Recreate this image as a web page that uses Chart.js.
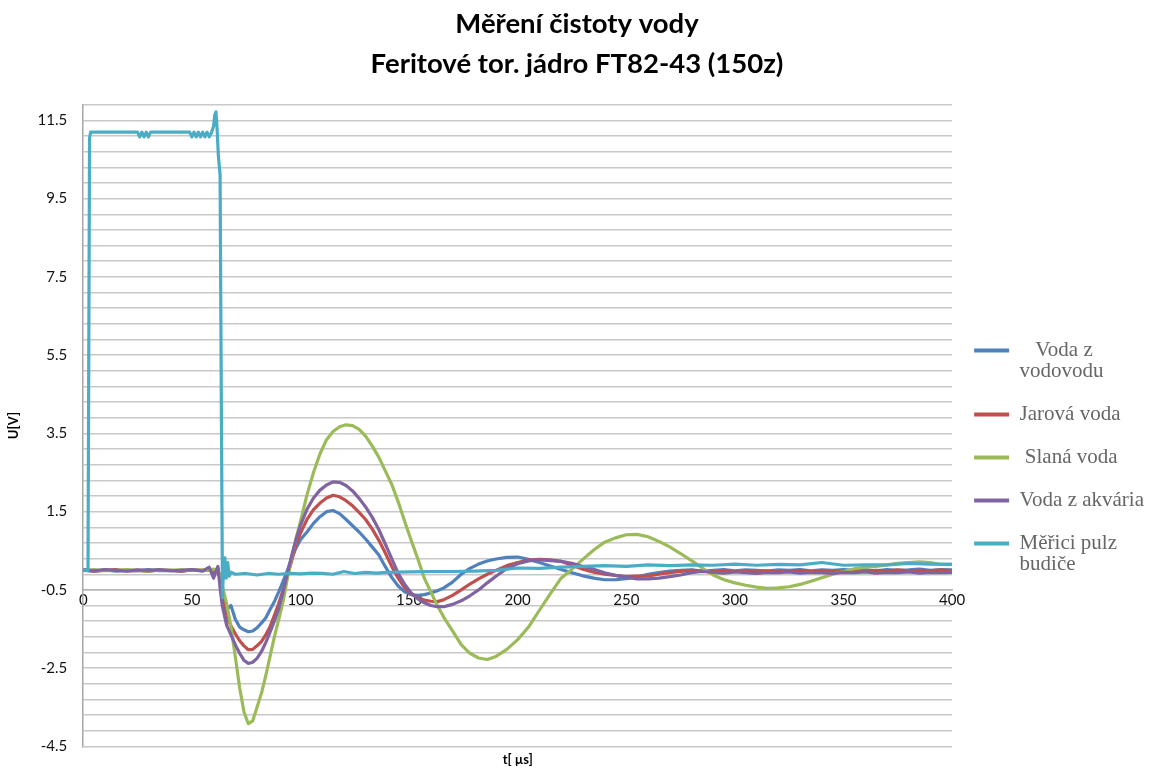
<!DOCTYPE html>
<html lang="cs">
<head>
<meta charset="utf-8">
<title>Měření čistoty vody</title>
<script src="https://cdn.jsdelivr.net/npm/chart.js@4.4.1/dist/chart.umd.min.js"></script>
<style>
  html, body { margin: 0; padding: 0; background: #fff; }
  #wrap { width: 1154px; height: 769px; position: relative; }
</style>
</head>
<body>
<div id="wrap"><canvas id="chart"></canvas></div>
<script>
// texts
const titleLines = ['Měření čistoty vody', 'Feritové tor. jádro FT82-43 (150z)'];
const xAxisTitle = 't[ µs]';
const yAxisTitle = 'U[V]';
const seriesNames = [['   Voda z', 'vodovodu'], 'Jarová voda', ' Slaná voda', 'Voda z akvária', ['Měřici pulz', 'budiče']];

// axes
const xMin = 0, xMax = 400, xTickStep = 50;
const yMin = -4.5, yMax = 11.9, yGridStep = 0.4;
const yTickLabels = [-4.5, -2.5, -0.5, 1.5, 3.5, 5.5, 7.5, 9.5, 11.5];

// sample times (µs) for the four measured responses
const timeUs = [0, 5, 10, 15, 20, 25, 30, 35, 40, 45, 50, 55, 58, 60, 62, 63, 64,
  66, 68, 70, 72, 74, 76, 78, 80, 82, 84, 86, 88, 90, 92, 94, 96, 98, 100,
  103, 106, 109, 112, 115, 118, 121, 124, 127, 130, 133, 136, 139, 142, 145, 148, 151, 154, 157, 160, 163, 166,
  170, 174, 178, 182, 186, 190,
  195, 200, 205, 210, 215, 220, 225, 230, 235, 240, 245, 250, 255, 260, 265, 270, 275, 280, 285, 290, 295,
  300, 305, 310, 315, 320, 325, 330, 335, 340, 345, 350, 355, 360, 365, 370, 375, 380, 385, 390, 395, 400];

const vodaVodovod = [0.0, -0.02, 0.01, -0.02, 0.0, -0.01, 0.02, -0.01, 0.0, -0.02, 0.01, -0.01, 0.03, -0.1, 0.05, -0.25, -0.6,
  -1.0, -0.9, -1.25, -1.45, -1.52, -1.57, -1.55, -1.47, -1.35, -1.22, -1.0, -0.8, -0.55, -0.28, 0.0, 0.32, 0.58, 0.78,
  0.98, 1.2, 1.37, 1.5, 1.53, 1.45, 1.3, 1.14, 0.98, 0.8, 0.6, 0.4, 0.1, -0.18, -0.4, -0.55, -0.62, -0.64, -0.62, -0.58, -0.52, -0.45,
  -0.3, -0.1, 0.05, 0.16, 0.24, 0.29,
  0.33, 0.34, 0.28, 0.2, 0.11, 0.02, -0.06, -0.14, -0.2, -0.24, -0.24, -0.21, -0.17, -0.1, -0.06, -0.02, 0.0, 0.01, -0.02, 0.0, 0.02,
  -0.01, 0.01, 0.0, -0.02, 0.01, 0.0, 0.02, -0.01, 0.01, 0.0, 0.02, 0.0, 0.01, -0.01, 0.02, 0.0, 0.01, 0.03, 0.0, 0.02, 0.01];

const jarovaVoda = [0.01, -0.02, 0.0, 0.02, -0.01, 0.0, -0.03, 0.01, 0.0, -0.02, 0.01, 0.0, 0.02, -0.05, 0.03, -0.25, -0.7,
  -1.2, -1.42, -1.62, -1.8, -1.93, -2.03, -2.02, -1.93, -1.82, -1.65, -1.44, -1.15, -0.85, -0.5, -0.14, 0.25, 0.66, 0.95,
  1.3, 1.55, 1.72, 1.85, 1.92, 1.88, 1.78, 1.65, 1.48, 1.3, 1.06, 0.78, 0.45, 0.1, -0.2, -0.45, -0.6, -0.7, -0.76, -0.79, -0.8, -0.75,
  -0.64, -0.5, -0.35, -0.22, -0.1, 0.0,
  0.12, 0.2, 0.26, 0.28, 0.27, 0.23, 0.13, 0.03, -0.05, -0.1, -0.13, -0.16, -0.15, -0.14, -0.1, -0.06, -0.03, 0.0, -0.02, -0.04, -0.01,
  -0.03, -0.02, -0.04, -0.01, -0.03, -0.02, 0.0, -0.03, -0.02, -0.04, -0.01, -0.02, -0.03, 0.0, -0.02, 0.01, -0.02, 0.0, -0.01, 0.01, -0.01];

const slanaVoda = [0.0, 0.02, -0.01, 0.0, 0.02, 0.0, -0.02, 0.01, 0.0, 0.02, 0.0, 0.01, 0.0, 0.03, 0.0, -0.15, -0.4,
  -0.85, -1.45, -2.2, -3.0, -3.62, -3.92, -3.85, -3.5, -3.15, -2.7, -2.2, -1.7, -1.25, -0.8, -0.2, 0.35, 0.82, 1.25,
  1.93, 2.5, 2.98, 3.34, 3.55, 3.67, 3.72, 3.7, 3.6, 3.43, 3.18, 2.9, 2.55, 2.2, 1.75, 1.25, 0.76, 0.3, -0.2, -0.55, -0.9, -1.2,
  -1.55, -1.9, -2.12, -2.24, -2.28, -2.2,
  -2.02, -1.77, -1.45, -1.02, -0.6, -0.2, 0.03, 0.28, 0.52, 0.72, 0.83, 0.91, 0.92, 0.86, 0.74, 0.6, 0.43, 0.25, 0.06, -0.12, -0.24,
  -0.32, -0.38, -0.43, -0.46, -0.45, -0.42, -0.36, -0.28, -0.19, -0.1, -0.03, 0.04, 0.08, 0.1, 0.14, 0.18, 0.2, 0.22, 0.2, 0.15, 0.15];

const vodaAkvarium = [0.01, -0.01, 0.02, 0.0, -0.02, 0.01, 0.0, 0.02, -0.01, 0.0, 0.02, -0.02, 0.08, -0.2, 0.1, -0.45, -0.9,
  -1.4, -1.65, -1.9, -2.12, -2.3, -2.38, -2.35, -2.25, -2.08, -1.85, -1.58, -1.3, -0.98, -0.55, -0.08, 0.38, 0.8, 1.15,
  1.56, 1.85, 2.05, 2.18, 2.26, 2.25, 2.17, 2.03, 1.84, 1.62, 1.36, 1.05, 0.68, 0.3, -0.08, -0.36, -0.58, -0.73, -0.83, -0.9, -0.93, -0.93,
  -0.87, -0.78, -0.65, -0.5, -0.32, -0.15,
  0.05, 0.17, 0.24, 0.27, 0.25, 0.23, 0.18, 0.1, 0.03, -0.06, -0.13, -0.18, -0.22, -0.22, -0.2, -0.16, -0.12, -0.06, -0.03, -0.05, -0.07,
  -0.04, -0.06, -0.08, -0.05, -0.06, -0.04, -0.07, -0.05, -0.06, -0.08, -0.05, -0.06, -0.04, -0.07, -0.05, -0.06, -0.04, -0.07, -0.05, -0.06, -0.05];

// excitation pulse has its own sample times
const pulseTimeUs = [0, 2.2, 2.9, 3.4, 5, 10, 15, 20, 25, 26, 27, 28, 29, 30, 31, 35, 40, 45, 49,
  50, 51, 52, 53, 54, 55, 56, 57, 58, 59, 60,
  60.6, 61.1, 61.6, 62.2, 63.0, 63.6, 64.1, 64.6, 65.2, 65.8, 66.5, 67.2, 68,
  70, 75, 80, 85, 90, 95, 100, 105, 110, 115, 120, 125, 130, 135,
  140, 150, 160, 170, 180, 190, 200, 210, 220, 230, 240, 250, 260, 270, 280, 290, 300, 310, 320, 330, 340, 350, 360, 370, 380, 390, 400];
const pulzBudice = [0, 0, 11.05, 11.2, 11.2, 11.2, 11.2, 11.2, 11.2, 11.08, 11.2, 11.08, 11.2, 11.08, 11.2, 11.2, 11.2, 11.2, 11.2,
  11.08, 11.2, 11.08, 11.2, 11.08, 11.2, 11.08, 11.2, 11.08, 11.18, 11.35,
  11.65, 11.72, 11.3, 10.6, 10.1, 4.0, -0.7, 0.1, 0.32, -0.2, 0.2, -0.15, -0.05,
  -0.1, -0.08, -0.12, -0.08, -0.1, -0.08, -0.09, -0.07, -0.08, -0.1, -0.03, -0.08, -0.05, -0.07,
  -0.05, -0.04, -0.03, -0.03, -0.02, 0.0, 0.06, 0.05, 0.08, 0.1, 0.12, 0.1, 0.14, 0.12, 0.14, 0.13, 0.16, 0.13, 0.15, 0.14, 0.2, 0.13, 0.14, 0.14, 0.18, 0.16, 0.15];

const seriesColors = ['#4F81BD', '#C0504D', '#9BBB59', '#8064A2', '#4BACC6'];

const toPoints = (xs, ys) => xs.map((x, i) => ({ x: x, y: ys[i] }));

const seriesData = [
  toPoints(timeUs, vodaVodovod),
  toPoints(timeUs, jarovaVoda),
  toPoints(timeUs, slanaVoda),
  toPoints(timeUs, vodaAkvarium),
  toPoints(pulseTimeUs, pulzBudice)
];

const datasets = seriesData.map((pts, i) => ({
  label: Array.isArray(seriesNames[i]) ? seriesNames[i].join(' ').trim() : seriesNames[i].trim(),
  data: pts,
  borderColor: seriesColors[i],
  backgroundColor: seriesColors[i],
  borderWidth: 3.2,
  pointRadius: 0,
  tension: 0,
  borderJoinStyle: 'round',
  order: 5 - i // later series drawn on top
}));

const axisFont = { family: 'Lato', size: 15 };

new Chart(document.getElementById('chart'), {
  type: 'line',
  data: { datasets },
  options: {
    responsive: true,
    maintainAspectRatio: false,
    animation: false,
    layout: { padding: 0 },
    plugins: {
      title: {
        display: true,
        text: titleLines,
        color: '#000',
        font: { family: 'Lato', size: 27.5, weight: 'bold', lineHeight: 1.45 },
        padding: { top: 4, bottom: 21 }
      },
      legend: {
        position: 'right',
        align: 'start',
        title: {
          display: true,
          text: ' ',
          font: { size: 10 },
          padding: { top: 306, bottom: 0 }
        },
        labels: {
          boxWidth: 35,
          boxHeight: 4,
          padding: 22,
          color: '#000',
          font: { family: 'Liberation Serif', size: 21, lineHeight: 1.0 },
          generateLabels: (chart) => chart.data.datasets.map((ds, i) => ({
            text: seriesNames[i],
            fillStyle: ds.borderColor,
            strokeStyle: ds.borderColor,
            lineWidth: 0,
            hidden: false,
            datasetIndex: i
          }))
        }
      },
      tooltip: { enabled: false }
    },
    scales: {
      // tick labels ride on the -0.5 line, like the Excel original
      x: {
        type: 'linear',
        position: { y: -0.5 },
        min: xMin,
        max: xMax,
        grid: { display: false },
        border: { display: true, color: '#b3b3b3', width: 1.5 },
        ticks: {
          stepSize: xTickStep,
          autoSkip: false,
          maxRotation: 0,
          padding: -7,
          color: '#111',
          font: axisFont
        }
      },
      xTitle: {
        type: 'linear',
        axis: 'x',
        position: 'bottom',
        min: xMin,
        max: xMax,
        grid: { display: false, drawTicks: false },
        border: { display: false },
        ticks: { display: false },
        title: {
          display: true,
          text: xAxisTitle,
          color: '#000',
          font: { family: 'Lato', size: 13, weight: 'bold' },
          padding: { top: 6, bottom: 1 }
        }
      },
      y: {
        type: 'linear',
        position: 'left',
        min: yMin,
        max: yMax,
        afterBuildTicks: (axis) => {
          const ticks = [];
          for (let v = yMin; v <= yMax + 1e-9; v += yGridStep) {
            ticks.push({ value: Math.round(v * 10) / 10 });
          }
          axis.ticks = ticks;
        },
        grid: { color: '#c8c8c8', lineWidth: 1.5, drawTicks: true, tickLength: 12, tickColor: 'rgba(0,0,0,0)' },
        border: { display: true, color: '#a6a6a6', width: 1.5 },
        ticks: {
          autoSkip: false,
          padding: 4,
          color: '#111',
          font: axisFont,
          callback: (value) => yTickLabels.some(v => Math.abs(v - value) < 1e-6) ? value.toFixed(1) : ''
        },
        title: {
          display: true,
          text: yAxisTitle,
          color: '#000',
          font: { family: 'Lato', size: 13, weight: 'bold' },
          padding: { top: 6, bottom: 12 }
        }
      }
    }
  }
});
</script>
</body>
</html>
